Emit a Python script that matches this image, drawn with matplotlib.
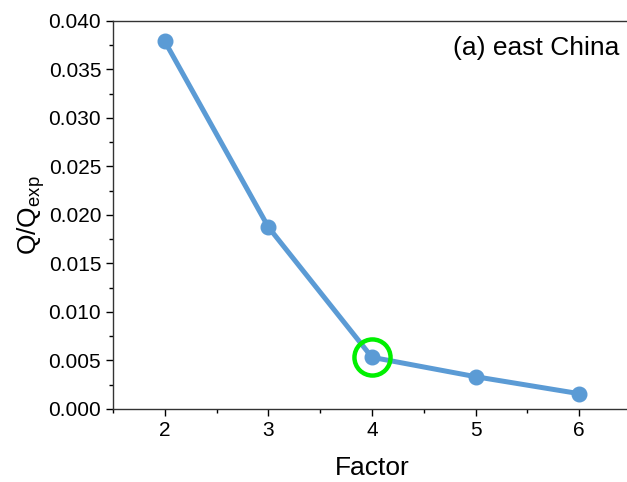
# Q/Qexp vs number of factors

import matplotlib
matplotlib.use('Agg')
from matplotlib import pyplot as plt
from matplotlib.ticker import MultipleLocator

plt.rcParams['font.family'] = ['Liberation Sans', 'DejaVu Sans']

factors = [2, 3, 4, 5, 6]
q_ratio = [0.0379, 0.01875, 0.00533, 0.00333, 0.00158]
chosen = 4
panel_label = '(a) east China'

fig = plt.figure(figsize=(6.27, 4.82), dpi=100)
ax = fig.add_axes([0.1802, 0.1515, 0.826, 0.805])

ax.plot(factors, q_ratio, color='#5B9BD5', lw=3.6, marker='o', ms=10.5,
        solid_capstyle='round', zorder=3)

# circle around the selected solution
i = factors.index(chosen)
ax.plot(chosen, q_ratio[i], marker='o', ms=26, mfc='none', mec='#00F000',
        mew=3.2, zorder=4)

ax.set_xlim(1.5, 6.5)
ax.set_ylim(0, 0.040)
ax.xaxis.set_major_locator(MultipleLocator(1))
ax.xaxis.set_minor_locator(MultipleLocator(0.5))
ax.yaxis.set_major_locator(MultipleLocator(0.005))
ax.yaxis.set_minor_locator(MultipleLocator(0.0025))
ax.yaxis.set_major_formatter(matplotlib.ticker.FormatStrFormatter('%.3f'))

ax.tick_params(which='major', direction='out', length=5, width=1, labelsize=15)
ax.tick_params(which='minor', direction='out', length=3, width=1)
for s in ax.spines.values():
    s.set_linewidth(1)
    s.set_color('#333333')

ax.set_xlabel('Factor', fontsize=19, labelpad=12)
ax.set_ylabel(r'Q/Q$_{\mathregular{exp}}$', fontsize=19, labelpad=1)
ax.text(0.977, 0.93, panel_label, transform=ax.transAxes, ha='right',
        va='center', fontsize=19)

fig.savefig('out.png', dpi=100)
